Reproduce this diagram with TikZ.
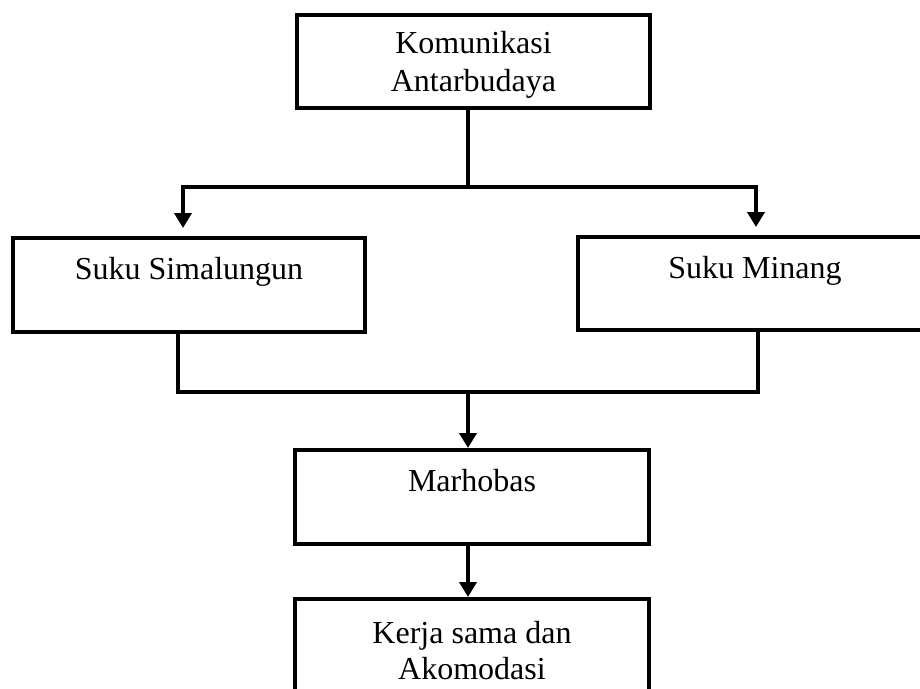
\documentclass[tikz,border=0pt]{standalone}
\usepackage{fontspec}
\setmainfont{Liberation Serif}
\usetikzlibrary{arrows.meta}
\begin{document}
\begin{tikzpicture}[x=1pt,y=-1pt,
  box/.style={draw, line width=4pt, rectangle, align=center, inner sep=0pt,
    font=\fontsize{32}{36}\selectfont},
  line/.style={line width=4pt, line join=miter},
  arr/.style={line width=4pt, -{Triangle[width=17pt,length=15pt]}}]
\useasboundingbox (0,0) rectangle (920,688);
\clip (0,0) rectangle (920,688);
\node[box, minimum width=353pt, minimum height=93pt] (box1) at (473.5,61.5) {\rule{0pt}{29pt}Komunikasi\\[2pt]Antarbudaya};
\node[box, minimum width=352pt, minimum height=94pt] (box2) at (189,285) {Suku Simalungun\\[-14pt]\strut};
\node[box, minimum width=354pt, minimum height=93pt] (box3) at (755,283.5) {Suku Minang\\[-14pt]\strut};
\node[box, minimum width=354pt, minimum height=94pt] (box4) at (472,497) {Marhobas\\[-14pt]\strut};
\node[box, minimum width=354pt, minimum height=103pt] (box5) at (472,650.5) {Kerja sama dan\\Akomodasi};
\coordinate (j1) at (468,187);
\coordinate (hl) at (183,187);
\coordinate (hr) at (756,187);
\coordinate (bl) at (178,392);
\coordinate (br) at (758,392);
\coordinate (bm) at (468,392);
\draw[line] (box1.south -| j1) -- (j1);
\draw[line] ([xshift=-2pt]hl) -- ([xshift=2pt]hr);
\draw[arr, shorten >=8pt] ([yshift=-2pt]hl) -- (hl |- box2.north);
\draw[arr, shorten >=8pt] ([yshift=-2pt]hr) -- (hr |- box3.north);
\draw[line] (bl |- box2.south) -- (bl) -- (br) -- (br |- box3.south);
\draw[arr] (bm) -- (box4.north -| bm);
\draw[arr] (box4.south -| bm) -- (box5.north -| bm);
\end{tikzpicture}
\end{document}
